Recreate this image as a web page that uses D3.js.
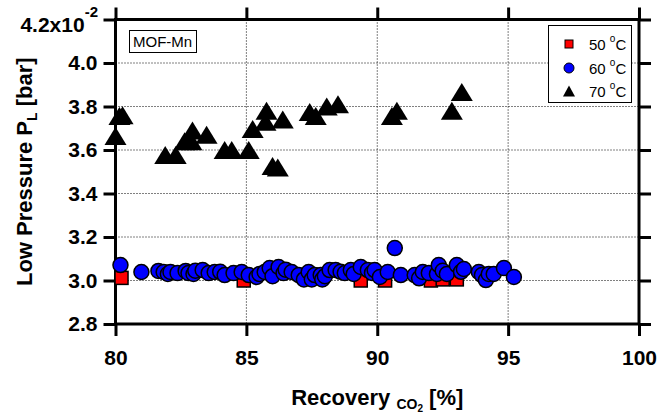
<!DOCTYPE html>
<html>
<head>
<script src="https://d3js.org/d3.v7.min.js"></script>
<style>
  body { margin: 0; background: #fff; }
  text { font-family: "Liberation Sans", Arial, sans-serif; }
</style>
</head>
<body>
<svg id="svg"></svg>
<script>
// data: [recovery %, low pressure x1e-2 bar]
const pts50 = [[80.23, 3.012], [84.9, 3.0], [89.37, 3.0], [90.3, 3.0], [92.05, 3.0], [92.5, 3.005], [93.04, 3.005]];
const pts60 = [
  [80.19, 3.071], [80.99, 3.039], [81.64, 3.044], [81.84, 3.039], [82.0, 3.03], [82.1, 3.039], [82.37, 3.034],
  [82.68, 3.044], [82.79, 3.034], [82.98, 3.03], [83.05, 3.045], [83.33, 3.048], [83.56, 3.034], [83.79, 3.039],
  [84.0, 3.04], [84.17, 3.025], [84.51, 3.034], [84.82, 3.039], [85.09, 3.025], [85.39, 3.016], [85.5, 3.03],
  [85.7, 3.039], [85.89, 3.057], [86.0, 3.02], [86.23, 3.062], [86.42, 3.034], [86.5, 3.05], [86.73, 3.039],
  [87.0, 3.025], [87.2, 3.005], [87.38, 3.039], [87.5, 3.005], [87.61, 3.025], [87.84, 3.025], [87.9, 3.005],
  [88.0, 3.02], [88.18, 3.048], [88.41, 3.048], [88.6, 3.04], [88.76, 3.034], [88.99, 3.048], [89.1, 3.03],
  [89.37, 3.062], [89.64, 3.048], [89.8, 3.035], [89.9, 3.048], [90.1, 3.016], [90.4, 3.039], [90.67, 3.149],
  [90.9, 3.025], [91.43, 3.025], [91.6, 3.01], [91.74, 3.039], [91.97, 3.034], [92.28, 3.03], [92.35, 3.071],
  [92.5, 3.045], [92.66, 3.03], [93.04, 3.071], [93.2, 3.04], [93.31, 3.053], [93.88, 3.039], [94.0, 3.025],
  [94.15, 3.002], [94.26, 3.03], [94.45, 3.03], [94.84, 3.057], [95.22, 3.016]
];
const pts70 = [
  [80.0, 3.664], [80.15, 3.756], [80.27, 3.76], [81.9, 3.577], [82.3, 3.577], [82.64, 3.64], [82.94, 3.69],
  [82.9, 3.64], [83.48, 3.67], [84.17, 3.6], [84.44, 3.6], [85.09, 3.6], [85.24, 3.696], [85.73, 3.73],
  [85.77, 3.78], [86.39, 3.74], [86.0, 3.526], [86.2, 3.52], [87.42, 3.775], [87.65, 3.756], [88.07, 3.8],
  [88.5, 3.81], [90.56, 3.756], [90.75, 3.78], [92.85, 3.78], [93.23, 3.867]
];
const xTicks = [80, 85, 90, 95, 100];
const yTicks = [2.8, 3.0, 3.2, 3.4, 3.6, 3.8, 4.0, 4.2];
const legendLabels = ["50", "60", "70"];

const W = 659, H = 417;
const pLeft = 115.5, pRight = 639, pTop = 19.5, pBottom = 324;
const tick = 12;

const svg = d3.select("#svg").attr("width", W).attr("height", H);

const x = d3.scaleLinear().domain([80, 100]).range([pLeft, pRight]);
const y = d3.scaleLinear().domain([2.8, 4.2]).range([pBottom, pTop]);

// dotted grid
svg.append("g").selectAll("line").data(xTicks.slice(1, -1)).enter().append("line")
  .attr("x1", d => x(d)).attr("x2", d => x(d)).attr("y1", pTop).attr("y2", pBottom)
  .attr("stroke", "#000").attr("stroke-width", 1).attr("stroke-dasharray", "1,2");
svg.append("g").selectAll("line").data(yTicks.slice(1, -1)).enter().append("line")
  .attr("y1", d => y(d)).attr("y2", d => y(d)).attr("x1", pLeft).attr("x2", pRight)
  .attr("stroke", "#000").attr("stroke-width", 1).attr("stroke-dasharray", "1,2");

// axes (mirrored, outward ticks)
function styleAxis(g) {
  g.select(".domain").remove();
  g.selectAll(".tick line").attr("stroke", "#000").attr("stroke-width", 3);
  g.selectAll(".tick text").attr("fill", "#000").style("font-size", "21px").style("font-weight", "bold");
}
svg.append("g").attr("transform", `translate(0,${pBottom})`)
  .call(d3.axisBottom(x).tickValues(xTicks).tickSize(tick).tickPadding(14).tickFormat(d3.format("d")))
  .call(styleAxis);
svg.append("g").attr("transform", `translate(0,${pTop})`)
  .call(d3.axisTop(x).tickValues(xTicks).tickSize(tick).tickFormat(""))
  .call(styleAxis);
svg.append("g").attr("transform", `translate(${pLeft},0)`)
  .call(d3.axisLeft(y).tickValues(yTicks).tickSize(tick).tickPadding(6)
    .tickFormat(d => d === 4.2 ? "" : d3.format(".1f")(d)))
  .call(styleAxis);
svg.append("g").attr("transform", `translate(${pRight},0)`)
  .call(d3.axisRight(y).tickValues(yTicks).tickSize(tick).tickFormat(""))
  .call(styleAxis);

svg.append("rect").attr("x", pLeft).attr("y", pTop)
  .attr("width", pRight - pLeft).attr("height", pBottom - pTop)
  .attr("fill", "none").attr("stroke", "#000").attr("stroke-width", 3);

// top tick label with exponent
const topLab = svg.append("text").attr("x", 98).attr("y", 32)
  .attr("text-anchor", "end").style("font-size", "21px").style("font-weight", "bold");
topLab.append("tspan").text("4.2x10");
topLab.append("tspan").attr("dy", -15).style("font-size", "15px").text("-2");

// markers
svg.append("g").selectAll("rect").data(pts50).enter().append("rect")
  .attr("x", d => x(d[0]) - 6.5).attr("y", d => y(d[1]) - 6.5)
  .attr("width", 13).attr("height", 13)
  .attr("fill", "#ff0000").attr("stroke", "#000").attr("stroke-width", 1.5);

svg.append("g").selectAll("circle").data(pts60).enter().append("circle")
  .attr("cx", d => x(d[0])).attr("cy", d => y(d[1])).attr("r", 7.5)
  .attr("fill", "#0000ff").attr("stroke", "#000").attr("stroke-width", 1.5);

const tri = "M0,-9L11,9L-11,9Z";
svg.append("g").selectAll("path").data(pts70).enter().append("path")
  .attr("d", tri).attr("transform", d => `translate(${x(d[0])},${y(d[1])})`)
  .attr("fill", "#000");

// sample label box
svg.append("rect").attr("x", 129.5).attr("y", 30.5).attr("width", 67).attr("height", 22)
  .attr("fill", "#fff").attr("stroke", "#000").attr("stroke-width", 1);
svg.append("text").attr("x", 133).attr("y", 46.5).style("font-size", "15px").text("MOF-Mn");

// legend
const lg = svg.append("g");
lg.append("rect").attr("x", 548.5).attr("y", 25.5).attr("width", 83).attr("height", 77)
  .attr("fill", "#fff").attr("stroke", "#000").attr("stroke-width", 1);
const rows = [44, 68, 91];
lg.append("rect").attr("x", 565).attr("y", rows[0] - 4).attr("width", 8).attr("height", 8)
  .attr("fill", "#ff0000").attr("stroke", "#000").attr("stroke-width", 1);
lg.append("circle").attr("cx", 569).attr("cy", rows[1]).attr("r", 5)
  .attr("fill", "#0000ff").attr("stroke", "#000").attr("stroke-width", 1);
lg.append("path").attr("d", "M0,-5.5L6,5.5L-6,5.5Z").attr("transform", `translate(569,${rows[2]})`).attr("fill", "#000");
legendLabels.forEach((t, i) => {
  const tx = lg.append("text").attr("x", 589).attr("y", rows[i] + 6).style("font-size", "15px");
  tx.append("tspan").text(t + " ");
  tx.append("tspan").attr("dy", -8).style("font-size", "10px").text("o");
  tx.append("tspan").attr("dy", 8).text("C");
});

// axis titles
const xt = svg.append("text").attr("x", (pLeft + pRight) / 2).attr("y", 405)
  .attr("text-anchor", "middle").style("font-size", "22px").style("font-weight", "bold");
xt.append("tspan").text("Recovery ");
xt.append("tspan").attr("dy", 4).style("font-size", "14px").text("CO");
xt.append("tspan").attr("dy", 3).style("font-size", "10px").text("2");
xt.append("tspan").attr("dy", -7).text(" [%]");

const yt = svg.append("text").attr("transform", `translate(32,${(pTop + pBottom) / 2}) rotate(-90)`)
  .attr("text-anchor", "middle").style("font-size", "22px").style("font-weight", "bold");
yt.append("tspan").text("Low Pressure P");
yt.append("tspan").attr("dy", 5).style("font-size", "14px").text("L");
yt.append("tspan").attr("dy", -5).text(" [bar]");
</script>
</body>
</html>
